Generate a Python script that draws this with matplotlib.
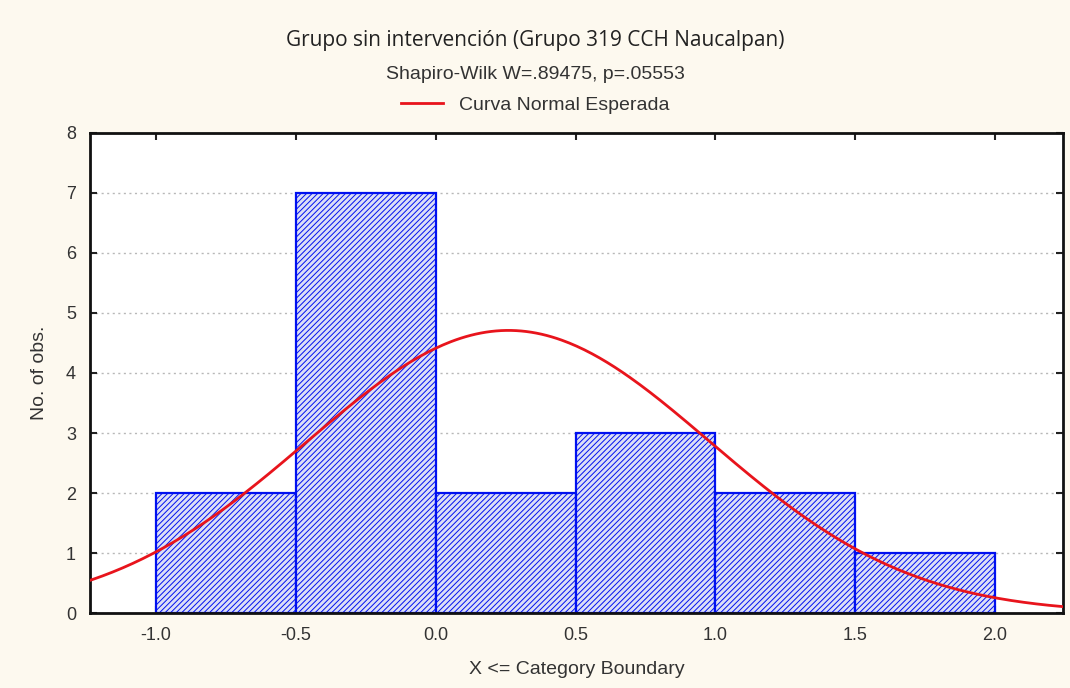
import numpy as np
import matplotlib.pyplot as plt

# histogram (X <= category boundary)
bin_left = [-1.0, -0.5, 0.0, 0.5, 1.0, 1.5]
bin_width = 0.5
counts = [2, 7, 2, 3, 2, 1]

# fitted normal curve parameters
mean_x = 0.26
sd_x = 0.72
n_obs = sum(counts)

xticks = [-1.0, -0.5, 0.0, 0.5, 1.0, 1.5, 2.0]
yticks = [0, 1, 2, 3, 4, 5, 6, 7, 8]

plt.rcParams['hatch.linewidth'] = 0.7
plt.rcParams['font.family'] = ['Liberation Sans', 'DejaVu Sans']

fig = plt.figure(figsize=(10.7, 6.88), dpi=100, facecolor='#fdf9ef')
ax = fig.add_axes([0.0841, 0.109, 0.9094, 0.6977])
ax.set_facecolor('white')

ax.bar(bin_left, counts, width=bin_width, align='edge', facecolor='#dcdff6',
       edgecolor='#0010f0', hatch='//////', linewidth=1.6, zorder=2)

xs = np.linspace(-1.3, 2.3, 400)
ys = n_obs * bin_width / (sd_x * np.sqrt(2 * np.pi)) * np.exp(-0.5 * ((xs - mean_x) / sd_x) ** 2)
ax.plot(xs, ys, color='#e8141c', linewidth=2, zorder=3, label='Curva Normal Esperada')

ax.set_xlim(-1.236, 2.243)
ax.set_ylim(0, 8)
ax.set_xticks(xticks)
ax.set_xticklabels(['%.1f' % t for t in xticks])
ax.set_yticks(yticks)
ax.yaxis.grid(True, linestyle=(0, (1.5, 2.5)), color='#b8b8b8', linewidth=1, zorder=0)
ax.set_axisbelow(True)
ax.tick_params(direction='in', top=True, right=True, length=5, width=1.5,
               labelsize=13, colors='#222222', pad=10)
ax.tick_params(axis='both', labelcolor='#333333')
for s in ax.spines.values():
    s.set_linewidth(2)
    s.set_color('#111111')

ax.set_xlabel('X <= Category Boundary', fontsize=14, color='#333333', labelpad=12)
ax.set_ylabel('No. of obs.', fontsize=14, color='#333333', labelpad=13)

fig.text(0.5, 0.941, 'Grupo sin intervención (Grupo 319 CCH Naucalpan)', ha='center', va='center',
         fontsize=15, color='#222222', family=['Open Sans', 'DejaVu Sans'])
fig.text(0.5, 0.892, 'Shapiro-Wilk W=.89475, p=.05553', ha='center', va='center',
         fontsize=14, color='#333333')
fig.legend(loc='center', bbox_to_anchor=(0.5, 0.847), frameon=False, fontsize=14,
           handlelength=2.2, labelcolor='#333333')

fig.savefig('out.png', dpi=100, facecolor=fig.get_facecolor())
